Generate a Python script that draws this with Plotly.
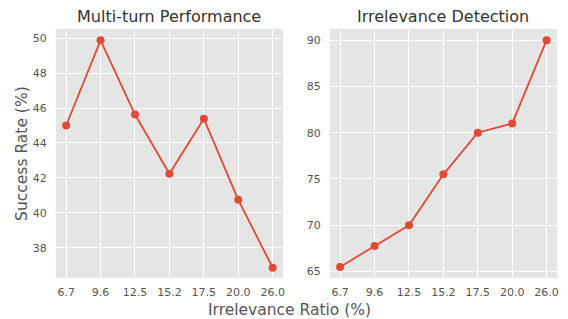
import plotly.graph_objects as go
from plotly.subplots import make_subplots

ratios = ["6.7", "9.6", "12.5", "15.2", "17.5", "20.0", "26.0"]
multi_turn = [45.0, 49.88, 45.63, 42.24, 45.39, 40.74, 36.85]
irrelevance = [65.5, 67.75, 70.0, 75.5, 80.0, 81.0, 90.0]

RED = "#E24A33"
FONT = "DejaVu Sans"

fig = make_subplots(rows=1, cols=2)
fig.add_trace(go.Scatter(x=ratios, y=multi_turn, mode="lines+markers",
                         line=dict(color=RED, width=1.8),
                         marker=dict(color=RED, size=8)), row=1, col=1)
fig.add_trace(go.Scatter(x=ratios, y=irrelevance, mode="lines+markers",
                         line=dict(color=RED, width=1.8),
                         marker=dict(color=RED, size=8)), row=1, col=2)

ax_common = dict(showgrid=True, gridcolor="white", gridwidth=1, zeroline=False,
                 showline=False, ticks="", tickfont=dict(family=FONT, size=11, color="#555555"))

fig.update_xaxes(type="category", range=[-0.3, 6.3], ticklabelstandoff=6, **ax_common)
fig.update_yaxes(ticklabelstandoff=8, **ax_common)
fig.update_layout(
    xaxis=dict(domain=[0.0986, 0.5]),
    xaxis2=dict(domain=[0.5827, 0.984]),
    yaxis=dict(domain=[0.1285, 0.909], range=[36.26, 50.53], dtick=2),
    yaxis2=dict(domain=[0.1285, 0.909], range=[64.3, 91.2], dtick=5),
    width=568, height=319,
    margin=dict(l=0, r=0, t=0, b=0),
    paper_bgcolor="white", plot_bgcolor="#E5E5E5",
    showlegend=False,
    font=dict(family=FONT, color="#333333"),
    annotations=[
        dict(text="Multi-turn Performance", x=170, y=17, showarrow=False,
             font=dict(size=16, color="#333333")),
        dict(text="Irrelevance Detection", x=445, y=17, showarrow=False,
             font=dict(size=16, color="#333333")),
        dict(text="Success Rate (%)", x=22, y=153, textangle=-90, showarrow=False,
             font=dict(size=15.5, color="#555555")),
        dict(text="Irrelevance Ratio (%)", x=291, y=310, showarrow=False,
             font=dict(size=15.5, color="#555555")),
    ],
)
# convert pixel-based annotation positions to paper coords
for a in fig.layout.annotations:
    a.xref = "paper"; a.yref = "paper"
    a.x = a.x / 568
    a.y = 1 - a.y / 319
    a.xanchor = "center"; a.yanchor = "middle"

fig.write_html("out.html", config={"displayModeBar": False},
               post_script="document.body.style.margin='0';")
